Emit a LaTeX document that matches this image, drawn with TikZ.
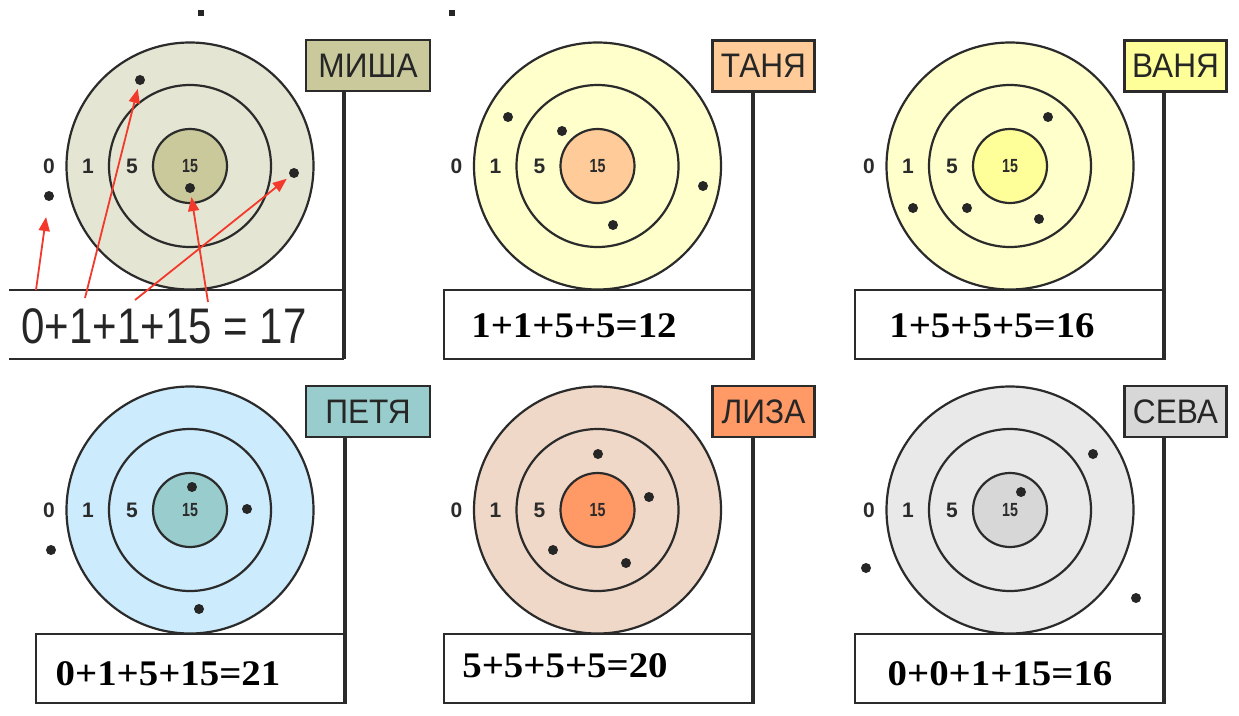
\documentclass[tikz,border=0pt]{standalone}
\usepackage{fontspec}
\setmainfont{Liberation Serif}
\setsansfont{Liberation Sans}
\newfontfamily\namefont[FakeStretch=0.93]{Liberation Sans}
\usetikzlibrary{positioning}
\usetikzlibrary{arrows.meta}
\usetikzlibrary{calc}

\definecolor{inkline}{HTML}{2B2B2B}
\definecolor{hitred}{HTML}{F2392B}
\definecolor{mishaout}{HTML}{E5E5D3}
\definecolor{mishain}{HTML}{C9C99C}
\definecolor{tanyaout}{HTML}{FFFFCC}
\definecolor{tanyain}{HTML}{FFCC99}
\definecolor{vanyaout}{HTML}{FFFFCC}
\definecolor{vanyain}{HTML}{FFFF99}
\definecolor{petyaout}{HTML}{CCEBFC}
\definecolor{petyain}{HTML}{99CCCC}
\definecolor{lizaout}{HTML}{F0D8C8}
\definecolor{lizain}{HTML}{FF9966}
\definecolor{sevaout}{HTML}{E9E9E9}
\definecolor{sevain}{HTML}{D7D7D7}

\tikzset{
  ring/.style={draw=inkline,line width=2.2pt},
  ringnum/.style={font=\sffamily\bfseries\fontsize{21}{21}\selectfont,text=inkline,inner sep=0pt},
  bullnum/.style={font=\sffamily\bfseries\fontsize{19}{19}\selectfont,text=inkline,inner sep=0pt,xscale=0.75},
  namebox/.style={draw=inkline,line width=2.2pt,minimum height=51pt,inner sep=0pt,
                  font=\namefont\fontsize{34}{34}\selectfont,text=black!85},
  sumbox/.style={draw=inkline,line width=2.2pt,minimum width=308pt,minimum height=69pt,inner sep=0pt},
  post/.style={draw=inkline,line width=4pt},
  score/.style={font=\bfseries\fontsize{36}{36}\selectfont,anchor=base,inner sep=0pt,xscale=1.08},
  dot/.style={circle,fill=black!85,inner sep=0pt,minimum size=10pt},
  hit/.style={draw=hitred,line width=1.8pt,-{Triangle[length=14pt,width=11pt]},shorten >=4pt},
}

% target: name, centre, ring colour, bull colour
\newcommand{\target}[4]{%
  \coordinate (#1) at #2;
  \draw[ring,fill=#3] (#1) circle (123.5pt);
  \draw[ring] (#1) circle (81pt);
  \draw[ring,fill=#4] (#1) circle (37pt);
  \node[ringnum] (#1z) at ([xshift=-141pt]#1) {0};
  \node[ringnum] (#1o) at ([xshift=-102pt]#1) {1};
  \node[ringnum] (#1f) at ([xshift=-58pt]#1) {5};
  \node[bullnum] (#1b) at (#1) {15};
}

\begin{document}
\begin{tikzpicture}[x=1pt,y=-1pt]
  \useasboundingbox (0,0) rectangle (1239,715);
  \fill[black!85] (198,10) rectangle (204,16);
  \fill[black!85] (449,10) rectangle (455,16);
  % targets
  \target{tmisha}{(190,166)}{mishaout}{mishain}
  \target{ttanya}{(597.5,166)}{tanyaout}{tanyain}
  \target{tvanya}{(1010,166)}{vanyaout}{vanyain}
  \target{tpetya}{(190,510)}{petyaout}{petyain}
  \target{tliza}{(597.5,510)}{lizaout}{lizain}
  \target{tseva}{(1010,510)}{sevaout}{sevain}
  % score boxes
  \coordinate (bmisha) at (344,359);
  \draw[ring] (9,290) -- (bmisha |- 0,290);
  \draw[ring] (9,359) -- (bmisha);
  \node[sumbox] (btanya) at (598,324.5) {};
  \node[sumbox] (bvanya) at (1009,324.5) {};
  \node[sumbox] (bpetya) at (190,668.5) {};
  \node[sumbox] (bliza)  at (598,668.5) {};
  \node[sumbox] (bseva)  at (1009,668.5) {};
  % name plates
  \node[namebox,fill=mishain,minimum width=124pt] (nmisha) at (368,65.5) {МИША};
  \node[namebox,fill=tanyain,minimum width=102pt] (ntanya) at (763.5,66) {ТАНЯ};
  \node[namebox,fill=vanyain,minimum width=102pt] (nvanya) at (1175.5,66) {ВАНЯ};
  \node[namebox,fill=petyain,minimum width=124pt] (npetya) at (368,411.5) {ПЕТЯ};
  \node[namebox,fill=lizain,minimum width=102pt]  (nliza)  at (763.5,411.5) {ЛИЗА};
  \node[namebox,fill=sevain,minimum width=102pt]  (nseva)  at (1175.5,411.5) {СЕВА};
  % posts
  \draw[post] (bmisha |- nmisha.south) -- (bmisha);
  \draw[post] (btanya.south east |- ntanya.south) -- (btanya.south east);
  \draw[post] (bvanya.south east |- nvanya.south) -- (bvanya.south east);
  \draw[post] (bpetya.south east |- npetya.south) -- (bpetya.south east);
  \draw[post] (bliza.south east |- nliza.south) -- (bliza.south east);
  \draw[post] (bseva.south east |- nseva.south) -- (bseva.south east);
  % shots
  \node[dot] (dmisha1) at (140,80) {};
  \node[dot] (dmisha2) at (49,196) {};
  \node[dot] (dmisha3) at (190,188) {};
  \node[dot] (dmisha4) at (294,173) {};
  \node[dot] (dtanya1) at (508,117) {};
  \node[dot] (dtanya2) at (562,131) {};
  \node[dot] (dtanya3) at (703,186) {};
  \node[dot] (dtanya4) at (613,225) {};
  \node[dot] (dvanya1) at (1048,117) {};
  \node[dot] (dvanya2) at (913,208) {};
  \node[dot] (dvanya3) at (967,208) {};
  \node[dot] (dvanya4) at (1039,219) {};
  \node[dot] (dpetya1) at (192,487) {};
  \node[dot] (dpetya2) at (247,509) {};
  \node[dot] (dpetya3) at (51,550) {};
  \node[dot] (dpetya4) at (199,609) {};
  \node[dot] (dliza1) at (598,454) {};
  \node[dot] (dliza2) at (649,497) {};
  \node[dot] (dliza3) at (553,550) {};
  \node[dot] (dliza4) at (626,563) {};
  \node[dot] (dseva1) at (1093,454) {};
  \node[dot] (dseva2) at (1021,492) {};
  \node[dot] (dseva3) at (866,568) {};
  \node[dot] (dseva4) at (1136,598) {};
  % sums
  \node[anchor=base,inner sep=0pt,xscale=0.84,text=black!85,
        font=\sffamily\fontsize{50}{50}\selectfont] (smisha) at (164,343) {0+1+1+15 = 17};
  \node[score] (stanya) at (574,337) {1+1+5+5=12};
  \node[score] (svanya) at (992,337) {1+5+5+5=16};
  \node[score] (spetya) at (168,685) {0+1+5+15=21};
  \node[score] (sliza)  at (565,677) {5+5+5+5=20};
  \node[score] (sseva)  at (1000,685) {0+0+1+15=16};
  % arrows from the sum to the shots
  \coordinate (amisha1) at (36,290);
  \coordinate (amisha2) at (85,298);
  \coordinate (amisha3) at (135,300);
  \coordinate (amisha4) at (208,302);
  \draw[hit,shorten >=16pt] (amisha1) -- (dmisha2);
  \draw[hit] (amisha2) -- (dmisha1);
  \draw[hit] (amisha3) -- (dmisha4);
  \draw[hit] (amisha4) -- (dmisha3);
\end{tikzpicture}
\end{document}
